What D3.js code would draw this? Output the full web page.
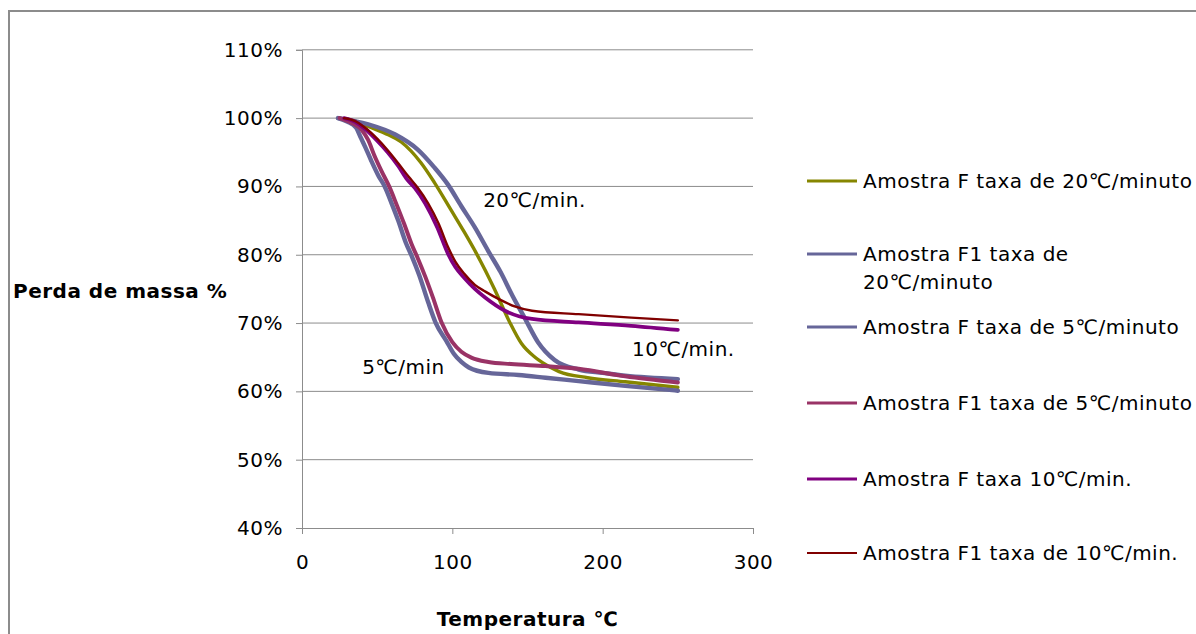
<!DOCTYPE html>
<html>
<head>
<meta charset="utf-8">
<script src="https://cdn.jsdelivr.net/npm/d3@7"></script>
<style>
  body { margin: 0; background: #fff; }
  svg { font-family: "DejaVu Sans", sans-serif; }
  svg text { letter-spacing: 0.5px; }
</style>
</head>
<body>
<svg width="1196" height="634"></svg>
<script>
const DEG = "\u2103";

// [temperatura °C, perda de massa %]
const amostraF20 = [[24,100],[35,99.6],[44,98.8],[55,97.8],[66,96.5],[79,93.5],[88,90.6],[99,86.6],[108,83.3],[116,80.2],[128,75],[138,70.2],[146,67],[155,65],[160,64.2],[171,62.9],[190,62],[215,61.4],[250,60.6]];
const amostraF1_20 = [[24,100],[44,99.1],[62,97.6],[77,95.4],[88,92.8],[97,90.3],[106,87.1],[115,84],[124,80.5],[132,77.5],[140,74],[148,70.8],[157,67.2],[168,64.6],[184,63.2],[200,62.7],[215,62.3],[250,61.8]];
const amostraF5 = [[24,100],[30,99.5],[36,98.6],[39,97.2],[42,95.8],[46,93.8],[51,91.5],[55,90],[60,87.3],[64,85],[69,81.8],[73,79.8],[78,77],[84,73],[89,70],[96,67.4],[101,65.5],[106,64.3],[111,63.5],[124,62.7],[144,62.4],[162,62],[184,61.5],[215,60.8],[250,60.1]];
const amostraF1_5 = [[25,100],[33,99.3],[40,98.2],[44,96.8],[48,94.6],[53,92.2],[58,90],[63,87.3],[68,84.5],[73,81.5],[77,79.5],[82,76.8],[87,73.8],[93,70],[100,67.2],[106,65.8],[113,64.9],[124,64.3],[139,64],[162,63.7],[184,63.3],[215,62.2],[250,61.3]];
const amostraF10 = [[28,100],[35,99.5],[42,98.4],[50,96.7],[57,95],[64,93],[70,91],[75,89.8],[82,87.5],[90,84],[97,80.2],[102,78.2],[108,76.6],[115,75],[122,73.7],[135,71.8],[153,70.6],[184,70.1],[219,69.6],[250,69]];
const amostraF1_10 = [[28,100],[35,99.6],[42,98.6],[50,97],[57,95.3],[64,93.4],[71,91.4],[77,89.8],[84,87.5],[91,84.5],[97,81.2],[102,79],[108,77.2],[115,75.6],[122,74.6],[131,73.5],[142,72.4],[153,71.8],[184,71.3],[219,70.8],[250,70.4]];

const seriesLabels = [
  [`Amostra F taxa de 20${DEG}/minuto`],
  ["Amostra F1 taxa de", `20${DEG}/minuto`],
  [`Amostra F taxa de 5${DEG}/minuto`],
  [`Amostra F1 taxa de 5${DEG}/minuto`],
  [`Amostra F taxa 10${DEG}/min.`],
  [`Amostra F1 taxa de 10${DEG}/min.`]
];
const yTicks = [40, 50, 60, 70, 80, 90, 100, 110];
const xTicks = [0, 100, 200, 300];
const notes = [
  {text: `20${DEG}/min.`, t: 120.5, m: 88.0},
  {text: `10${DEG}/min.`, t: 219.5, m: 66.2},
  {text: `5${DEG}/min`, t: 40, m: 63.6}
];

const series = [amostraF20, amostraF1_20, amostraF5, amostraF1_5, amostraF10, amostraF1_10];
const colors = ["#868600", "#666699", "#666699", "#993366", "#800080", "#800000"];
const widths = [3.4, 4.4, 4.4, 4, 3.8, 2.4];

const svg = d3.select("svg");
const plot = {left: 302, right: 753, top: 49.8, bottom: 528};

// moldura do gráfico
svg.append("rect")
  .attr("x", 9).attr("y", 11)
  .attr("width", 1300).attr("height", 700)
  .attr("fill", "none")
  .attr("stroke", "#8c8c8c")
  .attr("stroke-width", 2);

const x = d3.scaleLinear().domain([0, 300]).range([plot.left, plot.right]);
const y = d3.scaleLinear().domain([40, 110]).range([plot.bottom, plot.top]);

// linhas de grade
svg.append("g")
  .selectAll("line")
  .data(yTicks.slice(1))
  .join("line")
  .attr("x1", plot.left).attr("x2", plot.right)
  .attr("y1", d => y(d)).attr("y2", d => y(d))
  .attr("stroke", "#8c8c8c")
  .attr("stroke-width", 1);

const yAxis = svg.append("g")
  .attr("transform", `translate(${plot.left},0)`)
  .call(d3.axisLeft(y).tickValues(yTicks).tickFormat(d => d + "%").tickSize(6).tickPadding(13));

const xAxis = svg.append("g")
  .attr("transform", `translate(0,${plot.bottom})`)
  .call(d3.axisBottom(x).tickValues(xTicks).tickSize(6).tickPadding(20));

[yAxis, xAxis].forEach(a => {
  a.select(".domain").attr("stroke", "#8c8c8c");
  a.selectAll(".tick line").attr("stroke", "#8c8c8c");
  a.selectAll(".tick text")
    .attr("fill", "#000")
    .style("font-size", "20px")
    .style("font-family", "DejaVu Sans, sans-serif");
});
xAxis.selectAll(".tick text").attr("dy", "0.35em").attr("y", 34);

const line = d3.line()
  .x(d => x(d[0]))
  .y(d => y(d[1]))
  .curve(d3.curveMonotoneX);

svg.append("g")
  .selectAll("path")
  .data(series)
  .join("path")
  .attr("d", line)
  .attr("fill", "none")
  .attr("stroke", (d, i) => colors[i])
  .attr("stroke-width", (d, i) => widths[i])
  .attr("stroke-linejoin", "round")
  .attr("stroke-linecap", "round");

// rótulos dentro do gráfico
svg.append("g")
  .selectAll("text")
  .data(notes)
  .join("text")
  .attr("x", d => x(d.t))
  .attr("y", d => y(d.m))
  .attr("dy", "0.35em")
  .style("font-size", "20px")
  .text(d => d.text);

// títulos dos eixos
svg.append("text")
  .attr("x", (plot.left + plot.right) / 2)
  .attr("y", 619)
  .attr("dy", "0.35em")
  .attr("text-anchor", "middle")
  .style("font-size", "20px")
  .style("font-weight", "bold")
  .text(`Temperatura ${DEG}`);

svg.append("text")
  .attr("x", 13)
  .attr("y", 291)
  .attr("dy", "0.35em")
  .style("font-size", "20px")
  .style("font-weight", "bold")
  .text("Perda de massa %");

// legenda
const legendY = [181, 254, 327, 403, 479, 553];
const legend = svg.append("g")
  .selectAll("g")
  .data(seriesLabels)
  .join("g")
  .attr("transform", (d, i) => `translate(807,${legendY[i]})`);

legend.append("line")
  .attr("x1", 0).attr("x2", 50)
  .attr("stroke", (d, i) => colors[i])
  .attr("stroke-width", (d, i) => i === 5 ? 2 : 3);

legend.append("text")
  .attr("x", 56)
  .style("font-size", "20px")
  .selectAll("tspan")
  .data(d => d)
  .join("tspan")
  .attr("x", 56)
  .attr("y", (d, j) => j * 28)
  .attr("dy", "0.35em")
  .text(d => d);
</script>
</body>
</html>
